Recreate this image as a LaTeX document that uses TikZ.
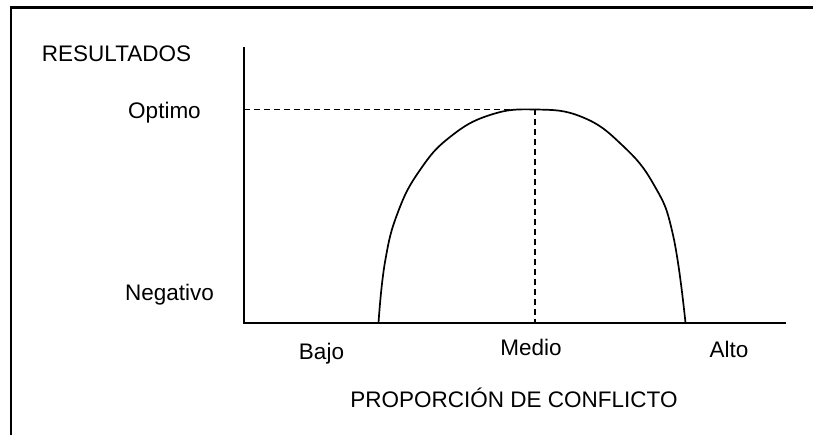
\documentclass[tikz,border=0pt]{standalone}
\usepackage{fontspec}
\setmainfont{Liberation Sans}
\usetikzlibrary{calc, positioning}

\begin{document}
\begin{tikzpicture}[x=1pt,y=-1pt,every node/.style={inner sep=0pt,font=\fontsize{22.5}{26}\selectfont},
  axis/.style={line width=1.5pt},
  guide/.style={line width=1.6pt,dash pattern=on 6pt off 4pt}]
  \useasboundingbox (0,0) rectangle (813,435);
  % frame
  \draw[line width=2.6pt](813,7.5)--(11,7.5)--(11,435);
%
  \coordinate(origin) at (244,323);
  \coordinate(ytop) at (244,47);
  \coordinate(xend) at (786,323);
  \coordinate(peak) at (535,109.5);
%
  \node(resultados)[anchor=base] at (116.5,62) {RESULTADOS};
  \node(optimo)[anchor=base] at (164.5,119) {Optimo};
  \node(negativo)[anchor=base] at (169.5,301) {Negativo};
  \node(bajo)[anchor=base] at (321.5,359) {Bajo};
  \node(medio)[anchor=base] at (531,355) {Medio};
  \node(alto)[anchor=base] at (729,357) {Alto};
  \node(proporcion)[anchor=base] at (514,407) {PROPORCIÓN DE CONFLICTO};
%
\draw[axis](ytop)--(origin)--(xend);
\draw[guide](origin|-peak)--(peak);
\draw[guide](peak)--(peak|-origin);
\draw[line width=1.7pt] plot[smooth,tension=0.75] coordinates{(378.5,323) (385,262) (398,212) (420,170) (450,137) (490,115) (peak) (582,117) (622,145) (654,185) (673,235) (685.5,323)};
\end{tikzpicture}
\end{document}
